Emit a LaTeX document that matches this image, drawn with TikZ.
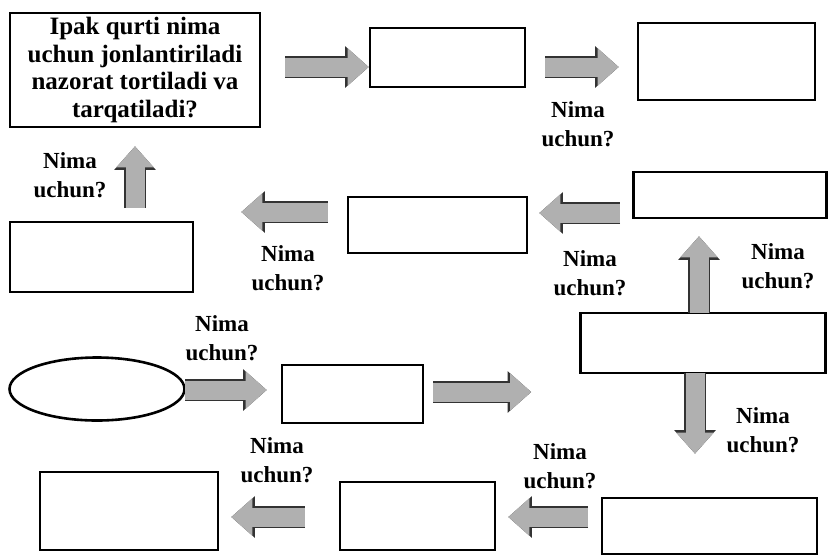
\documentclass[tikz,border=0pt]{standalone}
\usepackage{fontspec}
\setmainfont{Liberation Serif}
\usetikzlibrary{arrows.meta,shapes.geometric}

\begin{document}
\begin{tikzpicture}[x=1pt,y=-1pt,font=\bfseries\fontsize{23}{28.5}\selectfont,
   bx/.style={draw,line width=2.6pt,inner sep=0pt},
   lbl/.style={align=center,inner sep=0pt},
   fat/.style={draw=gray!62,line width=19pt,-{Triangle[length=21pt,width=36pt]},
     preaction={draw=gray!40!black,line width=21.5pt,-{Triangle[length=23.5pt,width=40pt]}}}]
\useasboundingbox (0,0) rectangle (829,558);
%% ---- boxes ----
\node[bx,minimum width=250pt,minimum height=114pt,align=center,
      font=\bfseries\fontsize{25}{27.5}\selectfont] (q) at (135,70)
      {Ipak qurti nima\\uchun jonlantiriladi\\nazorat tortiladi va\\tarqatiladi?};
\node[bx,minimum width=155pt,minimum height=59pt] (b1) at (447.5,57.5) {};
\node[bx,minimum width=177pt,minimum height=77pt] (b2) at (726.5,61.5) {};
\node[bx,minimum width=193pt,minimum height=46pt] (b3) at (730,195) {};
\node[bx,minimum width=179pt,minimum height=56pt] (b4) at (437.5,225) {};
\node[bx,minimum width=183pt,minimum height=70pt] (b5) at (101.5,257) {};
\node[draw,ellipse,line width=2.6pt,minimum width=175pt,minimum height=63pt] (e) at (97,389) {};
\node[bx,minimum width=141pt,minimum height=58pt] (b6) at (352.5,394) {};
\node[bx,minimum width=245pt,minimum height=60pt] (b7) at (703,343) {};
\node[bx,minimum width=215pt,minimum height=56pt] (b8) at (709.5,526) {};
\node[bx,minimum width=155pt,minimum height=68pt] (b9) at (417.5,516) {};
\node[bx,minimum width=178pt,minimum height=78pt] (b10) at (129,511) {};
%% ---- fat arrows ----
\coordinate (t1) at (285,67);
\coordinate (t2) at (545,67);
\coordinate (t3) at (135,208);
\coordinate (t4) at (328,212);
\coordinate (t5) at (620,213);
\coordinate (t6) at (699,313);
\coordinate (t7) at (695,373);
\coordinate (t8) at (185,390);
\coordinate (t9) at (433,392);
\coordinate (t10) at (588,517);
\coordinate (t11) at (305,517);
\draw[fat] (t1) -- (b1.west |- t1);
\draw[fat,shorten >=18pt] (t2) -- (b2.west |- t2);
\draw[fat,shorten >=18pt] (t3) -- (t3 |- q.south);
\draw[fat,shorten >=47pt] (t4) -- (b5.east |- t4);
\draw[fat,shorten >=11pt] (t5) -- (b4.east |- t5);
\draw[fat,shorten >=17pt] (t6) -- (t6 |- b3.south);
\draw[fat,shorten >=43pt] (t7) -- (t7 |- b8.north);
\draw[fat,shorten >=14pt] (t8) -- (b6.west |- t8);
\draw[fat,shorten >=48pt] (t9) -- (b7.west |- t9);
\draw[fat,shorten >=12pt] (t10) -- (b9.east |- t10);
\draw[fat,shorten >=12pt] (t11) -- (b10.east |- t11);
%% ---- labels ----
\node[lbl] (l1) at (578,124) {Nima\\uchun?};
\node[lbl] (l2) at (70,175) {Nima\\uchun?};
\node[lbl] (l3) at (288,268) {Nima\\uchun?};
\node[lbl] (l4) at (590,273) {Nima\\uchun?};
\node[lbl] (l5) at (778,266) {Nima\\uchun?};
\node[lbl] (l6) at (222,338) {Nima\\uchun?};
\node[lbl] (l7) at (763,430) {Nima\\uchun?};
\node[lbl] (l8) at (560,466) {Nima\\uchun?};
\node[lbl] (l9) at (277,460) {Nima\\uchun?};
\end{tikzpicture}
\end{document}
